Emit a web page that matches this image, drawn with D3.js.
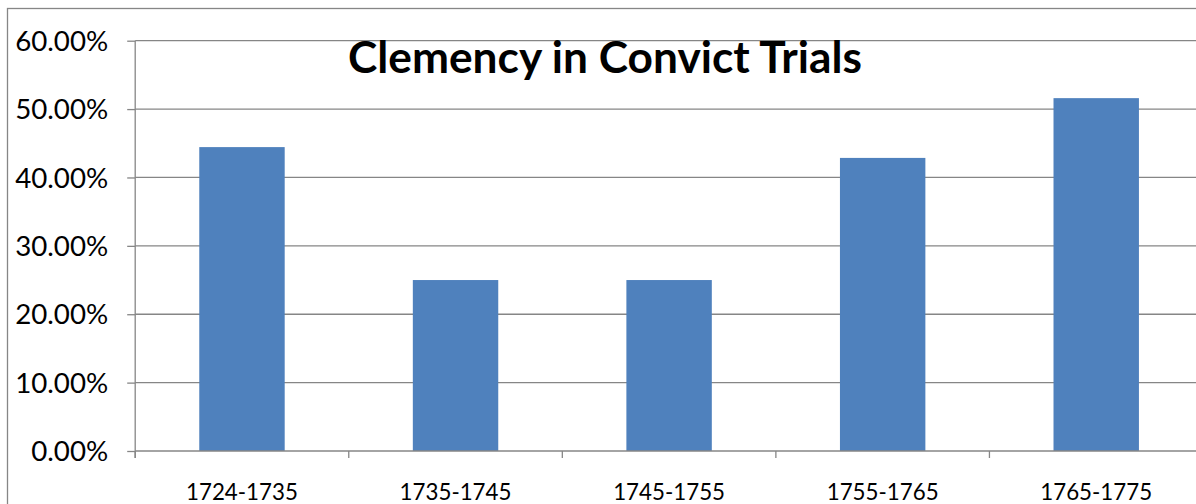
<!DOCTYPE html>
<html><head><meta charset="utf-8">
<script src="https://cdn.jsdelivr.net/npm/d3@7"></script>
<style>html,body{margin:0;padding:0;background:#fff;overflow:hidden}</style>
</head><body>
<svg id="chart" width="1196" height="504"></svg>
<script>
const categories = ["1724-1735","1735-1745","1745-1755","1755-1765","1765-1775"];
const values = [0.4444, 0.25, 0.25, 0.4286, 0.516];
const yTicks = [0, 0.1, 0.2, 0.3, 0.4, 0.5, 0.6];
const title = "Clemency in Convict Trials";

(function () {
const svg = d3.select("#chart");
const FONT = "Lato, 'Open Sans', sans-serif";
const pLeft = 135.2, pRight = 1203, pTop = 40.7, pBottom = 451;

// outer chart border
svg.append("rect").attr("x", 7.5).attr("y", 8.5).attr("width", 1300).attr("height", 600)
  .attr("fill", "none").attr("stroke", "#868686").attr("stroke-width", 1.3);

const x = d3.scaleBand().domain(categories).range([pLeft, pRight]).paddingInner(0.6).paddingOuter(0.3);
const y = d3.scaleLinear().domain([0, 0.6]).range([pBottom, pTop]);

// gridlines
svg.append("g").selectAll("line").data(yTicks.filter(d => d > 0)).join("line")
  .attr("x1", pLeft).attr("x2", 1300).attr("y1", d => y(d)).attr("y2", d => y(d))
  .attr("stroke", "#868686").attr("stroke-width", 1.3);

// bars
svg.append("g").selectAll("rect").data(values).join("rect")
  .attr("x", (d, i) => x(categories[i])).attr("width", x.bandwidth())
  .attr("y", d => y(d)).attr("height", d => pBottom - y(d))
  .attr("fill", "#4F81BD");

// y axis
const yAxis = d3.axisLeft(y).tickValues(yTicks).tickSize(8).tickPadding(19)
  .tickFormat(d => (d * 100).toFixed(2) + "%");
const ga = svg.append("g").attr("transform", `translate(${pLeft},0)`).call(yAxis);
ga.select(".domain").attr("stroke", "#868686").attr("stroke-width", 1.3).attr("d", `M0,${pTop}V${pBottom + 7}`);
ga.selectAll(".tick line").attr("stroke", "#868686").attr("stroke-width", 1.3);
ga.selectAll(".tick text").attr("font-family", FONT).attr("font-size", 20).attr("fill", "#000");

// x axis baseline
svg.append("line").attr("x1", pLeft).attr("x2", 1300).attr("y1", pBottom).attr("y2", pBottom)
  .attr("stroke", "#868686").attr("stroke-width", 1.3);
// category boundary ticks
const bounds = d3.range(categories.length + 1).map(i => pLeft + i * (pRight - pLeft) / categories.length);
svg.append("g").selectAll("line").data(bounds).join("line")
  .attr("x1", d => d).attr("x2", d => d).attr("y1", pBottom).attr("y2", pBottom + 7)
  .attr("stroke", "#868686").attr("stroke-width", 1.3);

// category labels
const cl = svg.append("g").selectAll("text").data(categories).join("text")
  .attr("x", d => x(d) + x.bandwidth() / 2).attr("y", 500)
  .attr("text-anchor", "middle").attr("font-family", FONT).attr("font-size", 20).attr("fill", "#000")
  .text(d => d);
const cw = cl.node().getComputedTextLength();
cl.attr("font-size", 20 * 112 / cw);

// title
const t = svg.append("text").attr("x", 605).attr("y", 73).attr("text-anchor", "middle")
  .attr("font-family", FONT).attr("font-weight", "bold").attr("font-size", 40).attr("fill", "#000")
  .text(title);
const w = t.node().getComputedTextLength();
t.attr("font-size", 40 * 514 / w);

// fit y tick label sizes
const yw = ga.select(".tick text").node().getComputedTextLength();
ga.selectAll(".tick text").attr("font-size", 20 * 77 / yw).attr("dy", "0.35em");
})();
</script>
</body></html>
